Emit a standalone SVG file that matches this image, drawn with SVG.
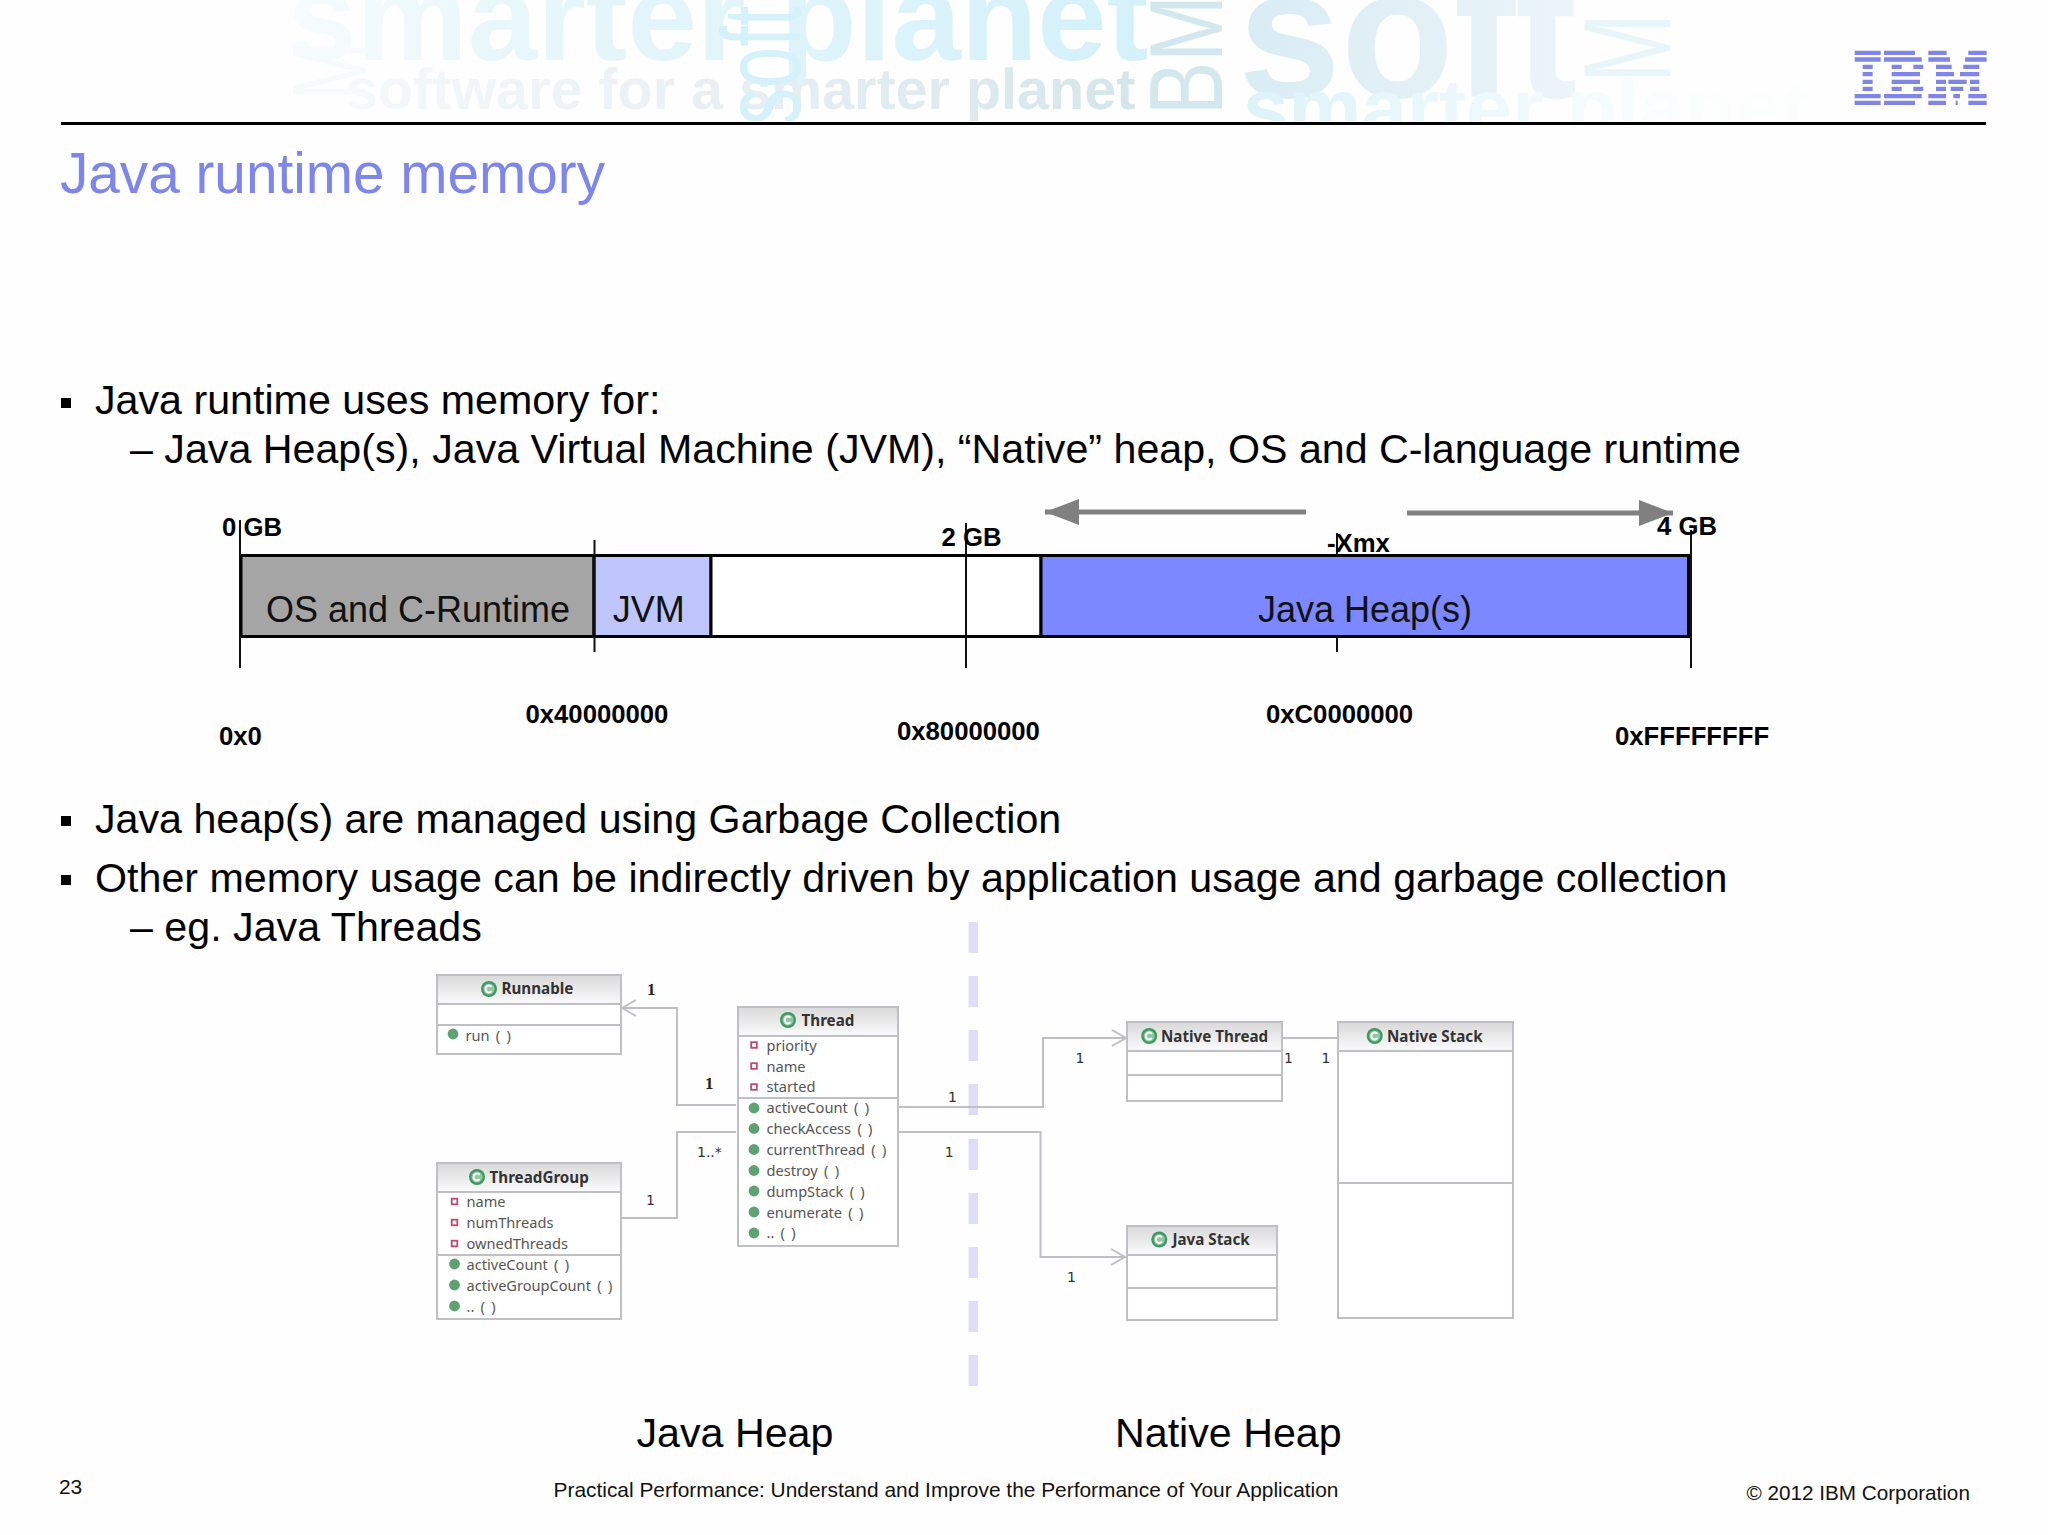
<svg xmlns="http://www.w3.org/2000/svg" xmlns:xlink="http://www.w3.org/1999/xlink" width="2048" height="1535" viewBox="0 0 2048 1535">
<style>
text{font-family:"Liberation Sans",Arial,sans-serif;fill:#000}
.b{font-size:41.2px}
.lb{font-size:25.7px;font-weight:700}
.seg{font-size:36px;fill:#111}
.cap{font-size:41.2px}
.ft{font-size:20.9px;fill:#111}
.wm{font-weight:700}
.box{fill:#fff;stroke:#bfbfc6;stroke-width:2}
.sep{stroke:#bfbfc6;stroke-width:2;fill:none}
.hd{fill:url(#hdg)}
.ut{font-family:"Noto Sans","Open Sans",sans-serif;font-size:14.6px;word-spacing:2.5px;fill:#555}
.uh{font-family:"Noto Sans","Open Sans",sans-serif;font-size:15.2px;font-weight:700;fill:#333}
.m{font-family:"DejaVu Sans",sans-serif;font-size:14px;fill:#333}
.mb{font-family:"Liberation Serif",serif;font-size:17px;font-weight:700;fill:#222}
.rel{fill:none;stroke:#bfbfc6;stroke-width:2}
.bar{stroke:#000;stroke-width:3}
.tick{stroke:#111;stroke-width:2;fill:none}
</style>
<defs>
<linearGradient id="hdg" x1="0" y1="0" x2="0" y2="1"><stop offset="0" stop-color="#dadada"/><stop offset="1" stop-color="#fbfbfb"/></linearGradient>
<linearGradient id="wc" gradientUnits="userSpaceOnUse" x1="280" y1="0" x2="1300" y2="0"><stop offset="0" stop-color="#f8fcfd"/><stop offset="0.22" stop-color="#e8f7fb"/><stop offset="1" stop-color="#cfeff9"/></linearGradient>
<linearGradient id="ws" gradientUnits="userSpaceOnUse" x1="340" y1="0" x2="1140" y2="0"><stop offset="0" stop-color="#f6f9fa"/><stop offset="0.5" stop-color="#e8eff3"/><stop offset="1" stop-color="#d4e6ea"/></linearGradient>
<linearGradient id="wr" gradientUnits="userSpaceOnUse" x1="1240" y1="0" x2="1800" y2="0"><stop offset="0" stop-color="#d9ecf4"/><stop offset="0.5" stop-color="#e8f3f8"/><stop offset="1" stop-color="#fcfeff"/></linearGradient>
<linearGradient id="wb" gradientUnits="userSpaceOnUse" x1="1240" y1="0" x2="1700" y2="0"><stop offset="0" stop-color="#dcf3f9"/><stop offset="1" stop-color="#fcfefe"/></linearGradient>
<clipPath id="hc"><rect x="0" y="0" width="2048" height="121"/></clipPath>
<marker id="open" markerUnits="userSpaceOnUse" markerWidth="18" markerHeight="20" refX="15" refY="9" orient="auto"><path d="M1 1 L15 9 L1 17" fill="none" stroke="#bfbfc6" stroke-width="2"/></marker>
<marker id="fill" markerUnits="userSpaceOnUse" markerWidth="36" markerHeight="28" refX="34" refY="13" orient="auto"><path d="M0 0 L34 13 L0 26 Z" fill="#808080"/></marker>
<g id="cIcon"><circle r="8" fill="#3f9a62"/><circle r="5.6" fill="#8fc7a3"/><path d="M2.6 -2.2 A3.4 3.4 0 1 0 2.6 2.2" fill="none" stroke="#fff" stroke-width="2"/></g>
<circle id="dot" r="5.4" fill="#5fa272"/>
<rect id="sq" x="-2.8" y="-2.8" width="5.6" height="5.6" fill="#fff" stroke="#c2476a" stroke-width="1.8"/>
</defs>

<rect width="2048" height="1535" fill="#fefefe"/>

<g id="watermark" clip-path="url(#hc)">
<text class="wm" x="287" y="60" font-size="125" style="fill:url(#wc)">smarter planet</text>
<text class="wm" x="346" y="109" font-size="57.5" style="fill:url(#ws)">software for a smarter planet</text>
<text transform="translate(800,125) rotate(-90) scale(1,1.5)" font-size="74" style="fill:#d5f1f9">soft</text>
<text transform="translate(1222,115) rotate(-90) scale(1,1.29)" font-size="80" style="fill:#d3e8ee">BM</text>
<text class="wm" x="1238" y="97" font-size="185" style="fill:url(#wr)">soft</text>
<text class="wm" x="1243" y="136" font-size="82" style="fill:url(#wb)">smarter planet</text>
<text transform="translate(1670,83) rotate(-90) scale(1,1.47)" font-size="84" style="fill:#e8f6fa">M</text>
<text transform="translate(366,100) rotate(-90) scale(1,1.5)" font-size="70" style="fill:#f6fafb">M</text>
</g>
<rect x="61" y="122" width="1925" height="3" fill="#000"/>

<g id="ibm-logo" transform="translate(1840,40) scale(0.3333)" fill="#7f86e8">
<path d="M44 32h78v13h-78zM44 52h78v13h-78zM68 74h30v13h-30zM68 96h30v13h-30zM68 119h30v13h-30zM68 140h30v13h-30zM44 162h78v13h-78zM44 182h78v13h-78z"/>
<path d="M132 32h93v13h-93zM132 52h113v13h-113zM155 74h30v13h-30zM220 74h30v13h-30zM155 96h85v13h-85zM155 119h85v13h-85zM155 140h30v13h-30zM220 140h30v13h-30zM132 162h113v13h-113zM132 182h93v13h-93z"/>
<path d="M265 32h55v13h-55zM385 32h55v13h-55zM265 52h65v13h-65zM375 52h65v13h-65zM288 74h47v13h-47zM370 74h48v13h-48zM288 96h54v13h-54zM360 96h58v13h-58zM288 119h30v13h-30zM325 119h55v13h-55zM390 119h28v13h-28zM288 140h30v13h-30zM332 140h38v13h-38zM390 140h28v13h-28zM265 162h53v13h-53zM340 162h20v13h-20zM385 162h55v13h-55zM265 182h53v13h-53zM347 182h6v13h-6zM385 182h55v13h-55z"/>
</g>

<text id="title" x="60" y="192.5" font-size="56.7" style="fill:#7c86ec">Java runtime memory</text>

<g id="body">
<rect x="61" y="398" width="10" height="10"/>
<text class="b" x="95" y="414">Java runtime uses memory for:</text>
<text class="b" x="130" y="463">– Java Heap(s), Java Virtual Machine (JVM), “Native” heap, OS and C-language runtime</text>
<rect x="61" y="816" width="10" height="10"/>
<text class="b" x="95" y="832.500">Java heap(s) are managed using Garbage Collection</text>
<rect x="61" y="875" width="10" height="10"/>
<text class="b" x="95" y="891.500">Other memory usage can be indirectly driven by application usage and garbage collection</text>
<text class="b" x="130" y="940.500">– eg. Java Threads</text>
</g>

<g id="memory-map">
<g id="seg-os"><rect class="bar" x="241" y="555.500" width="353" height="81" fill="#a6a5a5"/><text class="seg" x="266" y="621.700">OS and C-Runtime</text></g>
<g id="seg-jvm"><rect class="bar" x="594" y="555.500" width="117" height="81" fill="#bec6fb"/><text class="seg" x="612.700" y="621.700">JVM</text></g>
<g id="seg-free"><rect class="bar" x="711" y="555.500" width="330" height="81" fill="#fff"/></g>
<g id="seg-heap"><rect class="bar" x="1041" y="555.500" width="649" height="81" fill="#7b88ff"/><text class="seg" x="1258" y="621.700">Java Heap(s)</text></g>
<path class="tick" d="M240 520V668M594.500 540V652M966 523V668M1337 533V555M1337 637V652M1691 530V668"/>
<path d="M1688.500 555V637" stroke="#000" stroke-width="3"/>
<path d="M241 555V637" stroke="#000" stroke-width="2"/>
<text class="lb" x="222" y="535.500">0 GB</text>
<text class="lb" x="941.500" y="545.500">2 GB</text>
<text class="lb" x="1327" y="551.500">-Xmx</text>
<text class="lb" x="1657" y="534.500">4 GB</text>
<text class="lb" x="219" y="745">0x0</text>
<text class="lb" x="525.500" y="723">0x40000000</text>
<text class="lb" x="897" y="740">0x80000000</text>
<text class="lb" x="1266" y="723">0xC0000000</text>
<text class="lb" x="1615" y="745">0xFFFFFFFF</text>
</g>

<g id="divider" fill="#dedef9">
<rect x="968.500" y="922" width="9.500" height="31"/><rect x="968.500" y="976" width="9.500" height="31"/><rect x="968.500" y="1030" width="9.500" height="31"/><rect x="968.500" y="1084" width="9.500" height="31"/><rect x="968.500" y="1139" width="9.500" height="31"/><rect x="968.500" y="1193" width="9.500" height="31"/><rect x="968.500" y="1247" width="9.500" height="31"/><rect x="968.500" y="1301" width="9.500" height="31"/><rect x="968.500" y="1355" width="9.500" height="31"/>
</g>

<g id="connectors">
<path class="rel" d="M736 1105H677V1008H622" marker-end="url(#open)"/>
<path class="rel" d="M621 1218H677V1132H736"/>
<path class="rel" d="M898 1107H1043V1038H1126" marker-end="url(#open)"/>
<path class="rel" d="M898 1132H1040.500V1257H1125" marker-end="url(#open)"/>
<path class="rel" d="M1282 1038H1337"/>
<path d="M1306 512H1045" fill="none" stroke="#808080" stroke-width="5" marker-end="url(#fill)"/>
<path d="M1407 513H1673" fill="none" stroke="#808080" stroke-width="5" marker-end="url(#fill)"/>
<text class="mb" x="647" y="995">1</text>
<text class="mb" x="705" y="1089">1</text>
<text class="m" x="697" y="1157">1..*</text>
<text class="m" x="646" y="1205">1</text>
<text class="m" x="948" y="1102">1</text>
<text class="m" x="944.700" y="1157">1</text>
<text class="m" x="1075.500" y="1063">1</text>
<text class="m" x="1284" y="1063">1</text>
<text class="m" x="1321.500" y="1063">1</text>
<text class="m" x="1067" y="1282">1</text>
</g>

<g id="runnable">
<rect class="box" x="437" y="975" width="184" height="79"/><rect class="hd" x="438" y="976" width="182" height="28"/>
<path class="sep" d="M437 1004H621M437 1025H621"/>
<use xlink:href="#cIcon" href="#cIcon" x="489" y="989"/>
<text class="uh" x="501.500" y="994">Runnable</text>
<use xlink:href="#dot" href="#dot" x="453" y="1034"/>
<text class="ut" x="465.500" y="1041">run ( )</text>
</g>

<g id="thread-group">
<rect class="box" x="437" y="1163" width="184" height="156"/><rect class="hd" x="438" y="1164" width="182" height="28"/>
<path class="sep" d="M437 1192H621M437 1255H621"/>
<use xlink:href="#cIcon" href="#cIcon" x="477" y="1177"/>
<text class="uh" x="489.500" y="1183">ThreadGroup</text>
<use xlink:href="#sq" href="#sq" x="454.500" y="1201.500"/><text class="ut" x="466.500" y="1207">name</text>
<use xlink:href="#sq" href="#sq" x="454.500" y="1222.500"/><text class="ut" x="466.500" y="1228">numThreads</text>
<use xlink:href="#sq" href="#sq" x="454.500" y="1243.500"/><text class="ut" x="466.500" y="1249">ownedThreads</text>
<use xlink:href="#dot" href="#dot" x="454.500" y="1264"/><text class="ut" x="466.500" y="1270">activeCount ( )</text>
<use xlink:href="#dot" href="#dot" x="454.500" y="1285"/><text class="ut" x="466.500" y="1291">activeGroupCount ( )</text>
<use xlink:href="#dot" href="#dot" x="454.500" y="1306"/><text class="ut" x="466.500" y="1312">.. ( )</text>
</g>

<g id="thread">
<rect class="box" x="738" y="1007" width="160" height="239"/><rect class="hd" x="739" y="1008" width="158" height="28"/>
<path class="sep" d="M738 1036H898M738 1098H898"/>
<use xlink:href="#cIcon" href="#cIcon" x="788" y="1020"/>
<text class="uh" x="801.500" y="1026">Thread</text>
<use xlink:href="#sq" href="#sq" x="754" y="1045"/><text class="ut" x="766.500" y="1051">priority</text>
<use xlink:href="#sq" href="#sq" x="754" y="1066"/><text class="ut" x="766.500" y="1072">name</text>
<use xlink:href="#sq" href="#sq" x="754" y="1087"/><text class="ut" x="766.500" y="1092">started</text>
<use xlink:href="#dot" href="#dot" x="754" y="1108"/><text class="ut" x="766.500" y="1113">activeCount ( )</text>
<use xlink:href="#dot" href="#dot" x="754" y="1128.500"/><text class="ut" x="766.500" y="1134">checkAccess ( )</text>
<use xlink:href="#dot" href="#dot" x="754" y="1149.500"/><text class="ut" x="766.500" y="1155">currentThread ( )</text>
<use xlink:href="#dot" href="#dot" x="754" y="1170.500"/><text class="ut" x="766.500" y="1176">destroy ( )</text>
<use xlink:href="#dot" href="#dot" x="754" y="1191"/><text class="ut" x="766.500" y="1197">dumpStack ( )</text>
<use xlink:href="#dot" href="#dot" x="754" y="1212"/><text class="ut" x="766.500" y="1218">enumerate ( )</text>
<use xlink:href="#dot" href="#dot" x="754" y="1233"/><text class="ut" x="766.500" y="1238">.. ( )</text>
</g>

<g id="native-thread">
<rect class="box" x="1127" y="1022" width="155" height="79"/><rect class="hd" x="1128" y="1023" width="153" height="28"/>
<path class="sep" d="M1127 1051H1282M1127 1075H1282"/>
<use xlink:href="#cIcon" href="#cIcon" x="1149.200" y="1036"/>
<text class="uh" x="1161" y="1042">Native Thread</text>
</g>

<g id="native-stack">
<rect class="box" x="1338" y="1022" width="175" height="296"/><rect class="hd" x="1339" y="1023" width="173" height="28"/>
<path class="sep" d="M1338 1051H1513M1338 1183H1513"/>
<use xlink:href="#cIcon" href="#cIcon" x="1374.700" y="1036"/>
<text class="uh" x="1387" y="1042">Native Stack</text>
</g>

<g id="java-stack">
<rect class="box" x="1127" y="1226" width="150" height="94"/><rect class="hd" x="1128" y="1227" width="148" height="28"/>
<path class="sep" d="M1127 1255H1277M1127 1288H1277"/>
<use xlink:href="#cIcon" href="#cIcon" x="1159.300" y="1239.500"/>
<text class="uh" x="1172.500" y="1245">Java Stack</text>
</g>

<g id="footer">
<text class="cap" x="636.500" y="1447">Java Heap</text>
<text class="cap" x="1115" y="1447">Native Heap</text>
<text class="ft" x="59" y="1494">23</text>
<text class="ft" x="553.500" y="1497">Practical Performance: Understand and Improve the Performance of Your Application</text>
<text class="ft" x="1746.500" y="1500" style="font-size:20.7px">© 2012 IBM Corporation</text>
</g>
</svg>
